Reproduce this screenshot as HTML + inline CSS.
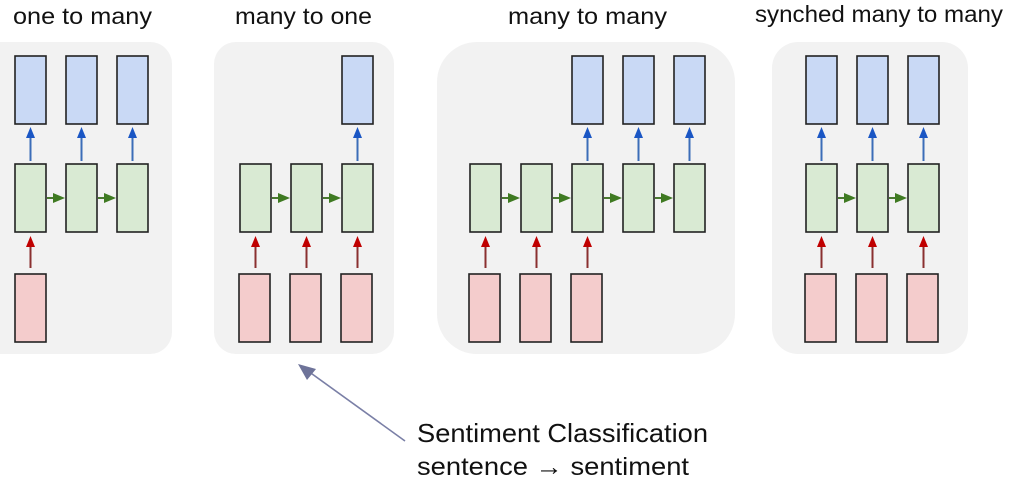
<!DOCTYPE html>
<html><head><meta charset="utf-8"><style>
html,body{margin:0;padding:0;background:#fff;width:1016px;height:485px;overflow:hidden}
svg{display:block}
text{font-family:"Liberation Sans",sans-serif;fill:#111}
.b{fill:#c9d9f5;stroke:#222;stroke-width:1.6}
.g{fill:#d9ead3;stroke:#222;stroke-width:1.6}
.r{fill:#f4cccc;stroke:#222;stroke-width:1.6}
.p{fill:#f2f2f2}
</style></head><body>
<svg width="1016" height="485" viewBox="0 0 1016 485" xmlns="http://www.w3.org/2000/svg">
<rect class="p" x="-22" y="42" width="194" height="312" rx="22"/>
<rect class="p" x="214" y="42" width="180" height="312" rx="22"/>
<rect class="p" x="437" y="42" width="298" height="312" rx="40"/>
<rect class="p" x="772" y="42" width="196" height="312" rx="26"/>

<text x="13" y="24" font-size="23" textLength="139" lengthAdjust="spacingAndGlyphs">one to many</text>
<text x="235" y="24" font-size="23" textLength="137" lengthAdjust="spacingAndGlyphs">many to one</text>
<text x="508" y="24" font-size="23" textLength="159" lengthAdjust="spacingAndGlyphs">many to many</text>
<text x="755" y="22" font-size="23" textLength="248" lengthAdjust="spacingAndGlyphs">synched many to many</text>

<g>
<rect class="b" x="15" y="56" width="31" height="68"/><rect class="b" x="66" y="56" width="31" height="68"/><rect class="b" x="117" y="56" width="31" height="68"/>
<rect class="g" x="15" y="164" width="31" height="68"/><rect class="g" x="66" y="164" width="31" height="68"/><rect class="g" x="117" y="164" width="31" height="68"/>
<rect class="r" x="15" y="274" width="31" height="68"/>
</g>
<g>
<rect class="b" x="342" y="56" width="31" height="68"/>
<rect class="g" x="240" y="164" width="31" height="68"/><rect class="g" x="291" y="164" width="31" height="68"/><rect class="g" x="342" y="164" width="31" height="68"/>
<rect class="r" x="239" y="274" width="31" height="68"/><rect class="r" x="290" y="274" width="31" height="68"/><rect class="r" x="341" y="274" width="31" height="68"/>
</g>
<g>
<rect class="b" x="572" y="56" width="31" height="68"/><rect class="b" x="623" y="56" width="31" height="68"/><rect class="b" x="674" y="56" width="31" height="68"/>
<rect class="g" x="470" y="164" width="31" height="68"/><rect class="g" x="521" y="164" width="31" height="68"/><rect class="g" x="572" y="164" width="31" height="68"/><rect class="g" x="623" y="164" width="31" height="68"/><rect class="g" x="674" y="164" width="31" height="68"/>
<rect class="r" x="469" y="274" width="31" height="68"/><rect class="r" x="520" y="274" width="31" height="68"/><rect class="r" x="571" y="274" width="31" height="68"/>
</g>
<g>
<rect class="b" x="806" y="56" width="31" height="68"/><rect class="b" x="857" y="56" width="31" height="68"/><rect class="b" x="908" y="56" width="31" height="68"/>
<rect class="g" x="806" y="164" width="31" height="68"/><rect class="g" x="857" y="164" width="31" height="68"/><rect class="g" x="908" y="164" width="31" height="68"/>
<rect class="r" x="805" y="274" width="31" height="68"/><rect class="r" x="856" y="274" width="31" height="68"/><rect class="r" x="907" y="274" width="31" height="68"/>
</g>

<g stroke="#3c6db8" stroke-width="2" fill="#1a56c4">
<line x1="30.5" y1="161" x2="30.5" y2="136"/><polygon stroke="none" points="30.5,127 26,138 35,138"/>
<line x1="81.5" y1="161" x2="81.5" y2="136"/><polygon stroke="none" points="81.5,127 77,138 86,138"/>
<line x1="132.5" y1="161" x2="132.5" y2="136"/><polygon stroke="none" points="132.5,127 128,138 137,138"/>
<line x1="357.5" y1="161" x2="357.5" y2="136"/><polygon stroke="none" points="357.5,127 353,138 362,138"/>
<line x1="587.5" y1="161" x2="587.5" y2="136"/><polygon stroke="none" points="587.5,127 583,138 592,138"/>
<line x1="638.5" y1="161" x2="638.5" y2="136"/><polygon stroke="none" points="638.5,127 634,138 643,138"/>
<line x1="689.5" y1="161" x2="689.5" y2="136"/><polygon stroke="none" points="689.5,127 685,138 694,138"/>
<line x1="821.5" y1="161" x2="821.5" y2="136"/><polygon stroke="none" points="821.5,127 817,138 826,138"/>
<line x1="872.5" y1="161" x2="872.5" y2="136"/><polygon stroke="none" points="872.5,127 868,138 877,138"/>
<line x1="923.5" y1="161" x2="923.5" y2="136"/><polygon stroke="none" points="923.5,127 919,138 928,138"/>
</g>
<g stroke="#8a3030" stroke-width="2" fill="#c00000">
<line x1="30.5" y1="268" x2="30.5" y2="245"/><polygon stroke="none" points="30.5,236 26,247 35,247"/>
<line x1="255.5" y1="268" x2="255.5" y2="245"/><polygon stroke="none" points="255.5,236 251,247 260,247"/>
<line x1="306.5" y1="268" x2="306.5" y2="245"/><polygon stroke="none" points="306.5,236 302,247 311,247"/>
<line x1="357.5" y1="268" x2="357.5" y2="245"/><polygon stroke="none" points="357.5,236 353,247 362,247"/>
<line x1="485.5" y1="268" x2="485.5" y2="245"/><polygon stroke="none" points="485.5,236 481,247 490,247"/>
<line x1="536.5" y1="268" x2="536.5" y2="245"/><polygon stroke="none" points="536.5,236 532,247 541,247"/>
<line x1="587.5" y1="268" x2="587.5" y2="245"/><polygon stroke="none" points="587.5,236 583,247 592,247"/>
<line x1="821.5" y1="268" x2="821.5" y2="245"/><polygon stroke="none" points="821.5,236 817,247 826,247"/>
<line x1="872.5" y1="268" x2="872.5" y2="245"/><polygon stroke="none" points="872.5,236 868,247 877,247"/>
<line x1="923.5" y1="268" x2="923.5" y2="245"/><polygon stroke="none" points="923.5,236 919,247 928,247"/>
</g>
<g stroke="#4a7a30" stroke-width="2" fill="#3f7a22">
<line x1="47" y1="198" x2="56" y2="198"/><polygon stroke="none" points="65,198 53,193 53,203"/>
<line x1="98" y1="198" x2="107" y2="198"/><polygon stroke="none" points="116,198 104,193 104,203"/>
<line x1="272" y1="198" x2="281" y2="198"/><polygon stroke="none" points="290,198 278,193 278,203"/>
<line x1="323" y1="198" x2="332" y2="198"/><polygon stroke="none" points="341,198 329,193 329,203"/>
<line x1="502" y1="198" x2="511" y2="198"/><polygon stroke="none" points="520,198 508,193 508,203"/>
<line x1="553" y1="198" x2="562" y2="198"/><polygon stroke="none" points="571,198 559,193 559,203"/>
<line x1="604" y1="198" x2="613" y2="198"/><polygon stroke="none" points="622,198 610,193 610,203"/>
<line x1="655" y1="198" x2="664" y2="198"/><polygon stroke="none" points="673,198 661,193 661,203"/>
<line x1="838" y1="198" x2="847" y2="198"/><polygon stroke="none" points="856,198 844,193 844,203"/>
<line x1="889" y1="198" x2="898" y2="198"/><polygon stroke="none" points="907,198 895,193 895,203"/>
</g>

<line x1="405" y1="441" x2="308" y2="371" stroke="#7a7fa6" stroke-width="1.6"/>
<polygon points="298,364 316,369 307,380" fill="#6e7399"/>
<text x="417" y="442" font-size="26" textLength="291" lengthAdjust="spacingAndGlyphs">Sentiment Classification</text>
<text x="417" y="475" font-size="25" textLength="272" lengthAdjust="spacingAndGlyphs">sentence → sentiment</text>
</svg>
</body></html>
